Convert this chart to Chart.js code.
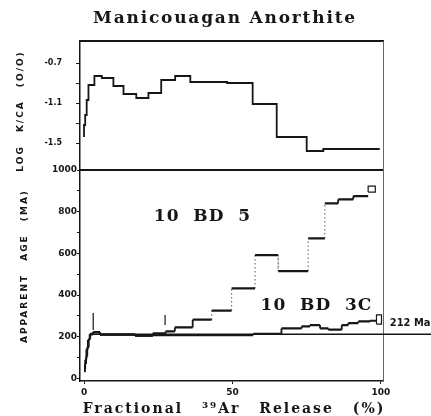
<!DOCTYPE html>
<html>
<head>
<meta charset="utf-8">
<script src="https://cdn.jsdelivr.net/npm/chart.js@4.4.0/dist/chart.umd.min.js"></script>
<style>
  html, body { margin: 0; padding: 0; background: #fff; }
  #wrap { position: relative; width: 431px; height: 416px; overflow: hidden; }
  #wrap canvas { position: absolute; left: 0; top: 0; }
  .txt { position: absolute; color: #161616; font-weight: bold; white-space: nowrap; }
  #title { left: 225px; top: 9px; line-height: 17px; transform: translateX(-50%);
           font-family: "DejaVu Serif"; font-size: 17px; letter-spacing: 1.8px; }
  #xtitle { left: 234px; top: 400px; line-height: 16px; transform: translateX(-50%);
            font-family: "DejaVu Serif"; font-size: 14px; letter-spacing: 2px; word-spacing: 12px; }
  .ytitle { font-family: "DejaVu Sans"; font-size: 9px; line-height: 10px;
            letter-spacing: 2px; word-spacing: 8px; transform: translate(-50%, -50%) rotate(-90deg); }
  #ytop { left: 20px; top: 111px; }
  #ybot { left: 24px; top: 266px; }
</style>
</head>
<body>
<div id="wrap">
  <canvas id="cTop" width="431" height="416"></canvas>
  <canvas id="cBot" width="431" height="416"></canvas>
  <div class="txt" id="title">Manicouagan Anorthite</div>
  <div class="txt ytitle" id="ytop">LOG K/CA (O/O)</div>
  <div class="txt ytitle" id="ybot">APPARENT AGE (MA)</div>
  <div class="txt" id="xtitle">Fractional ³⁹Ar Release (%)</div>
</div>
<script>
// --- data ---
// upper panel: log K/Ca step spectrum (start of each step, % 39Ar released)
const kcaStart = [0, 0.4, 0.9, 1.5, 3.5, 6.0, 9.9, 13.3, 17.6, 21.7, 26.0, 30.7, 35.8, 48.2, 56.8, 64.9, 75.0, 80.6, 95.5];
const kcaLog   = [-1.44, -1.32, -1.22, -1.07, -0.92, -0.83, -0.85, -0.93, -1.01, -1.05, -1.0, -0.87, -0.83, -0.89, -0.90, -1.11, -1.44, -1.58, -1.56];
const kcaEnd = 99.6;
const kcaTicks = [-0.7, -0.9, -1.1, -1.3, -1.5];
const kcaLabels = { '-0.7': '-0.7', '-1.1': '-1.1', '-1.5': '-1.5' };

// lower panel: apparent age spectra (Ma)
const bd5Start = [0, 0.4, 0.8, 1.3, 1.9, 3.1, 5.4, 17.2, 23.2, 27.5, 30.6, 36.6, 43.0, 49.7, 57.6, 65.4, 75.5, 81.1, 85.6, 90.7];
const bd5Age   = [45, 90, 140, 185, 212, 222, 210, 206, 216, 226, 245, 282, 326, 432, 592, 515, 672, 840, 859, 875];
const bd5End = 95.7;
const bd5BoxX = [95.7, 98.1];
const bd5BoxAge = [894, 923];

const bd3cStart = [0, 0.3, 0.7, 1.1, 1.6, 2.1, 3.0, 5.4, 17.2, 23.2, 57.0, 66.5, 73.3, 76.1, 79.5, 82.3, 86.8, 89.0, 92.4, 96.3];
const bd3cAge   = [30, 70, 105, 150, 190, 214, 222, 210, 205, 208, 214, 240, 250, 256, 240, 234, 256, 266, 274, 277];
const bd3cEnd = 98.5;
const bd3cBoxX = [98.5, 100.2];
const bd3cBoxAge = [261, 305];

// plateau markers (vertical bars)
const markX  = [3.1, 27.3];
const markLo = [233, 257];
const markHi = [314, 305];

const plateauAge = 212;
const plateauRange = [2, 117];

const ageTicks = [0, 100, 200, 300, 400, 500, 600, 700, 800, 900, 1000];
const xTicks = [0, 50, 100];

const INK = '#161616';
const X_MIN = -1.35, X_MAX = 100.7;

function steps(starts, vals, end) {
  const pts = starts.map((s, i) => ({ x: s, y: vals[i] }));
  pts.push({ x: end, y: vals[vals.length - 1] });
  return pts;
}
// horizontal treads only, separated by gaps
function treads(starts, vals, end) {
  const pts = [];
  starts.forEach((s, i) => {
    const e = i < starts.length - 1 ? starts[i + 1] : end;
    pts.push({ x: s, y: vals[i] }, { x: e, y: vals[i] }, { x: e, y: null });
  });
  return pts;
}
// vertical risers between treads
function risers(starts, vals) {
  const pts = [];
  for (let i = 1; i < starts.length; i++) {
    pts.push({ x: starts[i], y: vals[i - 1] }, { x: starts[i], y: vals[i] }, { x: starts[i], y: null });
  }
  return pts;
}
function box(xs, vs) {
  return [
    { x: xs[0], y: vs[0] }, { x: xs[1], y: vs[0] },
    { x: xs[1], y: vs[1] }, { x: xs[0], y: vs[1] }, { x: xs[0], y: vs[0] }
  ];
}
function markers() {
  const pts = [];
  markX.forEach((x, i) => {
    pts.push({ x: x, y: markLo[i] }, { x: x, y: markHi[i] }, { x: x, y: null });
  });
  return pts;
}

const lineDs = (data, extra) => Object.assign({
  data, borderColor: INK, borderWidth: 2, pointRadius: 0, fill: false, tension: 0, spanGaps: false
}, extra || {});

// tall risers of the spectra are drawn dotted, short ones solid
const tall = c => Math.abs(c.p1.parsed.y - c.p0.parsed.y) > 40 && c.p0.parsed.x > 10;
const riserStyle = {
  borderWidth: 1.6,
  segment: {
    borderDash: c => (tall(c) ? [1.5, 2.5] : undefined),
    borderColor: c => (tall(c) ? '#777' : INK),
    borderWidth: c => (tall(c) ? 1.2 : 1.8)
  }
};

const hiddenX = (pos, w) => ({
  type: 'linear', position: pos, min: X_MIN, max: X_MAX,
  ticks: { display: false }, grid: { display: false },
  border: { color: INK, width: w },
  afterFit: s => { s.height = 0; }
});
const rightEdge = {
  position: 'right', ticks: { display: false }, grid: { display: false },
  border: { color: '#666', width: 1, dash: [2, 4] },
  afterFit: s => { s.width = 0; }
};

// upper panel
new Chart(document.getElementById('cTop'), {
  type: 'line',
  data: { datasets: [lineDs(steps(kcaStart, kcaLog, kcaEnd), { stepped: 'after', borderWidth: 1.8 })] },
  options: {
    responsive: false, animation: false, events: [],
    layout: { padding: { left: 0, right: 48, top: 41, bottom: 246 } },
    plugins: { legend: { display: false }, tooltip: { enabled: false } },
    scales: {
      x: hiddenX('bottom', 2),
      xTop: hiddenX('top', 2),
      y: {
        position: 'left', min: -1.77, max: -0.48,
        afterBuildTicks: s => { s.ticks = kcaTicks.map(v => ({ value: v })); },
        afterFit: s => { s.width = 80; },
        ticks: {
          color: INK, padding: 14,
          font: { family: 'DejaVu Sans', size: 8, weight: 'bold' },
          callback: v => kcaLabels[v.toFixed(1)] || ''
        },
        grid: { drawOnChartArea: false, tickLength: 4, color: INK },
        border: { color: INK, width: 1.5 }
      },
      yRight: rightEdge
    }
  }
});

// text labels inside the lower panel
const labelPlugin = {
  id: 'specLabels',
  afterDatasetsDraw(chart) {
    const { ctx, scales: { x, y } } = chart;
    ctx.save();
    ctx.fillStyle = INK;
    ctx.textBaseline = 'middle';
    ctx.font = 'bold 17px "DejaVu Serif"';
    ctx.letterSpacing = '1px';
    ctx.textAlign = 'center';
    ctx.fillText('10  BD  5', x.getPixelForValue(39.9), y.getPixelForValue(775));
    ctx.fillText('10  BD  3C', x.getPixelForValue(78.3), y.getPixelForValue(352));
    ctx.letterSpacing = '0px';
    ctx.font = 'bold 11px "DejaVu Sans Condensed"';
    ctx.textAlign = 'left';
    ctx.fillText('212 Ma', x.getPixelForValue(103), y.getPixelForValue(266));
    ctx.restore();
  }
};

// lower panel
new Chart(document.getElementById('cBot'), {
  type: 'line',
  data: {
    datasets: [
      lineDs([{ x: plateauRange[0], y: plateauAge }, { x: plateauRange[1], y: plateauAge }], { borderWidth: 1.5, clip: false }),
      lineDs(treads(bd3cStart, bd3cAge, bd3cEnd), { borderWidth: 2.2 }),
      lineDs(risers(bd3cStart, bd3cAge), riserStyle),
      lineDs(box(bd3cBoxX, bd3cBoxAge), { borderWidth: 1.2 }),
      lineDs(treads(bd5Start, bd5Age, bd5End), { borderWidth: 2.2 }),
      lineDs(risers(bd5Start, bd5Age), riserStyle),
      lineDs(box(bd5BoxX, bd5BoxAge), { borderWidth: 1.2 }),
      lineDs(markers(), { borderWidth: 1.2 })
    ]
  },
  options: {
    responsive: false, animation: false, events: [],
    layout: { padding: { left: 0, right: 48, top: 170, bottom: 0 } },
    plugins: { legend: { display: false }, tooltip: { enabled: false } },
    scales: {
      x: {
        type: 'linear', position: 'bottom', min: X_MIN, max: X_MAX,
        afterBuildTicks: s => { s.ticks = xTicks.map(v => ({ value: v })); },
        afterFit: s => { s.height = 35; },
        ticks: { color: INK, padding: 3, maxRotation: 0, font: { family: 'DejaVu Sans', size: 9, weight: 'bold' } },
        grid: { drawOnChartArea: false, tickLength: 3, color: INK },
        border: { color: INK, width: 1.5 }
      },
      y: {
        position: 'left', min: -12, max: 1000,
        afterBuildTicks: s => { s.ticks = ageTicks.map(v => ({ value: v })); },
        afterFit: s => { s.width = 80; },
        ticks: {
          color: INK, padding: 0,
          font: { family: 'DejaVu Sans', size: 9, weight: 'bold' },
          callback: v => (v % 200 === 0 ? String(v) : '')
        },
        grid: { drawOnChartArea: false, tickLength: 3, color: INK },
        border: { color: INK, width: 1.5 }
      },
      yRight: rightEdge
    }
  },
  plugins: [labelPlugin]
});
</script>
</body>
</html>
